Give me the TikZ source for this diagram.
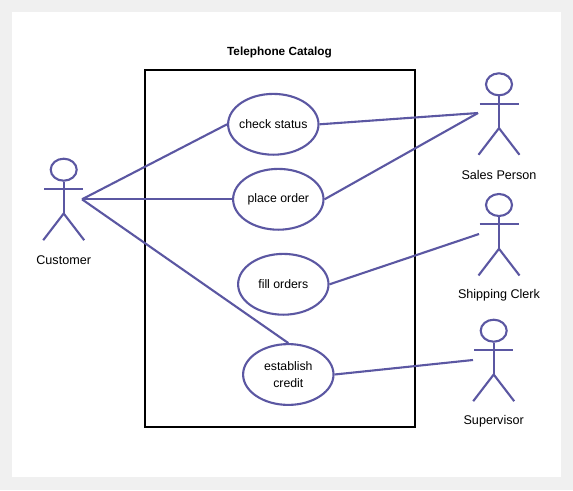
\documentclass[tikz,border=0pt]{standalone}
\usepackage{fontspec}
\setmainfont{Liberation Sans}
\usetikzlibrary{shapes.geometric}
\definecolor{ink}{HTML}{5B57A2}
\definecolor{pagegray}{HTML}{F0F0F0}
\tikzset{
  usecase/.style={ellipse,draw=ink,line width=2.1pt,fill=white,inner sep=0pt,minimum width=90.4pt,minimum height=60.8pt,align=center,font=\fontsize{12.3}{17}\selectfont},
  head/.style={ellipse,draw=ink,line width=2.1pt,inner sep=0pt,minimum width=26pt,minimum height=22pt},
  limb/.style={draw=ink,line width=2.1pt},
  link/.style={draw=ink,line width=2.1pt},
  caption/.style={font=\fontsize{12.6}{14}\selectfont,inner sep=0pt},
  title/.style={font=\fontsize{11.8}{14}\selectfont\bfseries,inner sep=0pt},
  frame/.style={draw=black,line width=2pt}
}
\newcommand{\stickman}[3]{% name, x, head y
  \node[head] (#1head) at (#2,#3) {};
  \coordinate (#1hip) at (#2,#3+43.8);
  \coordinate (#1la) at (#2-19.5,#3+19.3);
  \coordinate (#1ra) at (#2+19.5,#3+19.3);
  \coordinate (#1lf) at (#2-20.5,#3+70.5);
  \coordinate (#1rf) at (#2+20.5,#3+70.5);
  \draw[limb] (#1head.south) -- (#1hip);
  \draw[limb] (#1la) -- (#1ra);
  \draw[limb] (#1lf) -- (#1hip) -- (#1rf);
}
\begin{document}
\begin{tikzpicture}[x=1pt,y=-1pt]
\useasboundingbox (0,0) rectangle (573,490);
\fill[pagegray] (0,0) rectangle (573,490);
\fill[white] (12,12) rectangle (561,477);
\node[title] (title) at (279.5,52.5) {Telephone Catalog};
\draw[frame] (145,70) rectangle (415,427);
\stickman{cu}{63.7}{169.7}
\stickman{sa}{499}{84.3}
\stickman{sh}{499}{205}
\stickman{su}{493.7}{330.7}
\node[caption] (culabel) at (63.7,260) {Customer};
\node[caption] (salabel) at (499,175) {Sales Person};
\node[caption] (shlabel) at (499,295.5) {Shipping Clerk};
\node[caption] (sulabel) at (493.7,421.5) {Supervisor};
\coordinate (cuport) at (82,199.3);
\coordinate (saport) at (478,113);
\coordinate (shport) at (479,234);
\coordinate (suport) at (473,360);
\node[usecase] (check) at (273.3,124.3) {\makebox[0pt]{check status}};
\node[usecase] (place) at (278.3,199.3) {\makebox[0pt]{place order}};
\node[usecase] (fill) at (283.3,284.3) {\makebox[0pt]{fill orders}};
\node[usecase] (est) at (288.3,374.5) {establish\\credit};
\draw[link] (cuport) -- (check.west);
\draw[link] (cuport) -- (place.west);
\draw[link] (cuport) -- (est.north);
\draw[link] (check.east) -- (saport);
\draw[link] (place.east) -- (saport);
\draw[link] (fill.east) -- (shport);
\draw[link] (est.east) -- (suport);
\end{tikzpicture}
\end{document}
